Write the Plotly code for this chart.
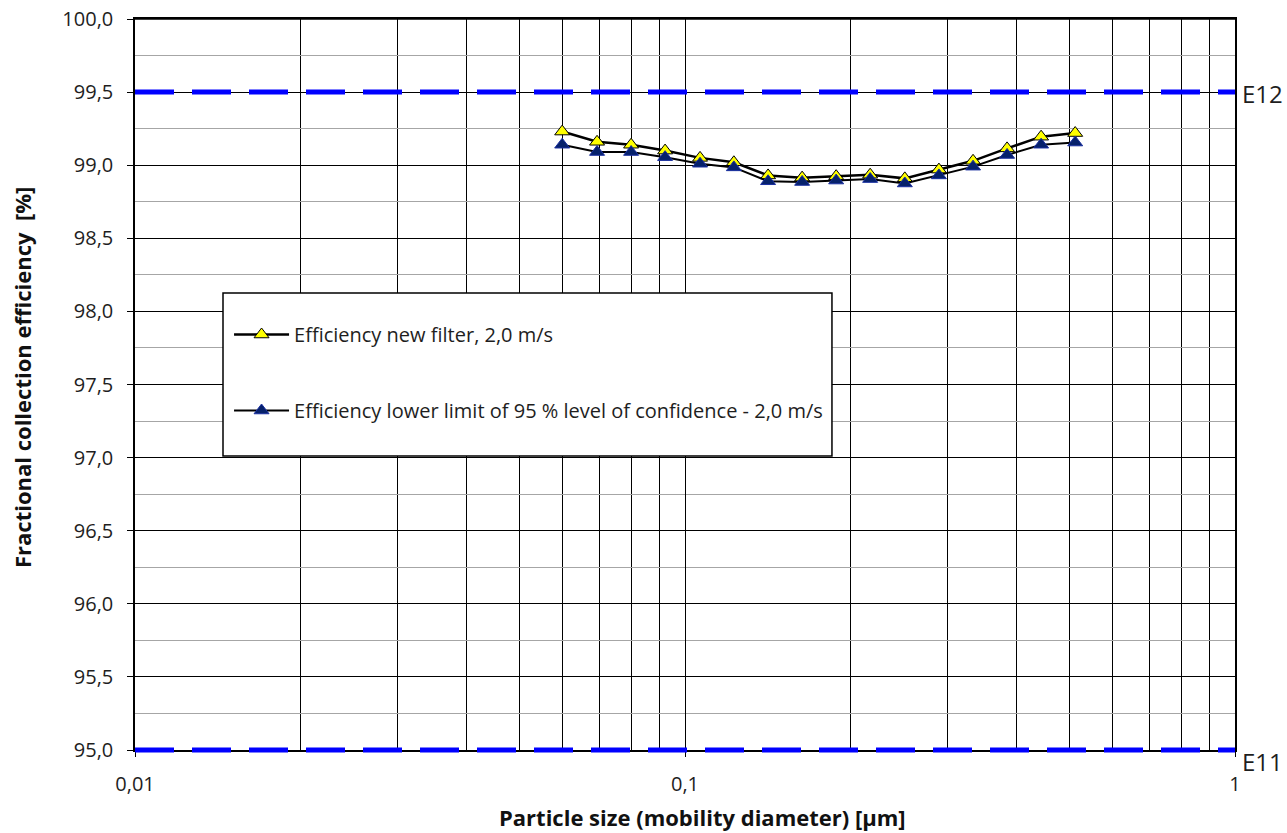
import plotly.graph_objects as go

# ---- data ----
particle_size = [0.0598, 0.0692, 0.0798, 0.0920, 0.1065, 0.1227, 0.1416, 0.1633,
                 0.1883, 0.2171, 0.2510, 0.2895, 0.3340, 0.3851, 0.4441, 0.5122]
eff_new = [99.23, 99.16, 99.14, 99.10, 99.05, 99.02, 98.93, 98.915,
           98.925, 98.935, 98.91, 98.97, 99.03, 99.115, 99.195, 99.22]
eff_lower = [99.14, 99.09, 99.09, 99.055, 99.01, 98.985, 98.89, 98.885,
             98.895, 98.905, 98.875, 98.93, 98.99, 99.07, 99.14, 99.155]
class_limits = [99.5, 95.0]
class_names = ["E12", "E11"]
x_tickvals = [0.01, 0.1, 1]
x_ticktext = ["0,01", "0,1", "1"]
y_range = [95, 100]

FONT = "Open Sans"
TXT = "#1e1e1e"

# layout geometry
W, H = 1287, 833
ML, MR, MT, MB = 135, 52, 14, 78
PAD = 5                                  # px of room above/below main y axis
area_h = H - MT - MB
plot_w = W - ML - MR
plot_h = area_h - 2 * PAD
dom = [PAD / area_h, 1 - PAD / area_h]
unit_pad = PAD * (y_range[1] - y_range[0]) / plot_h

fig = go.Figure()

fig.add_trace(go.Scatter(
    x=particle_size, y=eff_new, mode="lines+markers",
    name="Efficiency new filter, 2,0 m/s",
    legendgroup="a",
    line=dict(color="black", width=2.5),
    marker=dict(symbol="triangle-up", size=13, color="#FFFF00",
                line=dict(color="black", width=1)),
))
fig.add_trace(go.Scatter(
    x=particle_size, y=eff_lower, mode="lines+markers",
    name="Efficiency lower limit of 95 % level of confidence - 2,0 m/s",
    legendgroup="b",
    line=dict(color="black", width=2),
    marker=dict(symbol="triangle-up", size=13, color="#06216B",
                line=dict(color="#1a2fa0", width=1)),
))

# class limit lines, referenced to a hidden y axis with the same scale but a
# slightly larger clip region so the 95 % line is not cut in half
for lim, nm in zip(class_limits, class_names):
    fig.add_shape(type="line", xref="paper", x0=0, x1=1, yref="y2", y0=lim, y1=lim,
                  line=dict(color="#0000FF", width=5, dash="39px,18px"),
                  layer="above")
    fig.add_annotation(x=1, xref="paper", y=lim, yref="y", text=nm,
                       showarrow=False, xanchor="left", xshift=5,
                       yshift=-11 if lim == min(class_limits) else -1,
                       font=dict(family=FONT, size=24, color=TXT))

# plot frame top edge (hidden otherwise by the overlapping helper subplot)
fig.add_shape(type="line", xref="x domain", yref="y domain", x0=0, x1=1, y0=1, y1=1,
              line=dict(color="black", width=1.5), layer="above")

# legend box
lb_top, lb_bot = (H - MB - 293) / area_h, (H - MB - 456) / area_h
fig.add_shape(type="rect", xref="paper", yref="paper",
              x0=0.08, x1=0.6336, y0=lb_bot, y1=lb_top,
              fillcolor="white", line=dict(color="black", width=1.5),
              layer="above")

# axis titles
fig.add_annotation(text="<b>Particle size (mobility diameter) [µm]</b>",
                   xref="paper", yref="paper", x=0.5155,
                   y=(H - MB - 817) / area_h,
                   xanchor="center", yanchor="middle", showarrow=False,
                   font=dict(family=FONT, size=22, color="#111"))
fig.add_annotation(text="<b>Fractional collection efficiency  [%]</b>",
                   xref="paper", yref="paper", x=(22 - ML) / plot_w,
                   y=(H - MB - 378) / area_h, textangle=-90,
                   xanchor="center", yanchor="middle", showarrow=False,
                   font=dict(family=FONT, size=22, color="#111"))

fig.update_layout(
    width=W, height=H,
    margin=dict(l=ML, r=MR, t=MT, b=MB),
    paper_bgcolor="white", plot_bgcolor="rgba(0,0,0,0)",
    separators=",.",
    font=dict(family=FONT, size=20, color=TXT),
    showlegend=True,
    legend=dict(x=0.0855, y=(H - MB - 315) / area_h, xanchor="left", yanchor="top",
                bgcolor="rgba(0,0,0,0)", borderwidth=0,
                traceorder="grouped", tracegroupgap=47, itemwidth=55,
                font=dict(family=FONT, size=20, color=TXT)),
    xaxis=dict(
        type="log", range=[-2, 0],
        tickvals=x_tickvals, ticktext=x_ticktext,
        showgrid=True, gridcolor="black", gridwidth=1,
        minor=dict(dtick="D1", showgrid=True, gridcolor="black", gridwidth=1),
        showline=True, linecolor="black", linewidth=1.5, mirror=True,
        ticks="outside", ticklen=5, tickcolor="black",
        ticklabelstandoff=10, ticklabeloverflow="allow",
        tickfont=dict(size=20),
        zeroline=False, automargin=False,
    ),
    yaxis=dict(
        domain=dom,
        range=y_range, dtick=0.5, tick0=95, tickformat=".1f",
        showgrid=True, gridcolor="black", gridwidth=1,
        minor=dict(dtick=0.25, showgrid=True, gridcolor="#a6a6a6", gridwidth=1),
        showline=True, linecolor="black", linewidth=1.5, mirror=True,
        ticks="outside", ticklen=6, tickcolor="black",
        ticklabelstandoff=10, ticklabeloverflow="allow",
        tickfont=dict(size=20),
        zeroline=False, automargin=False,
    ),
    xaxis2=dict(type="log", range=[-2, 0], visible=False, anchor="y2",
                showgrid=False, zeroline=False),
    yaxis2=dict(domain=[0, 1], anchor="x2",
                range=[y_range[0] - unit_pad, y_range[1] + unit_pad],
                visible=False, showgrid=False, zeroline=False),
)

fig.write_html("out.html",
               config={"displayModeBar": False},
               post_script="document.body.style.margin='0';")
